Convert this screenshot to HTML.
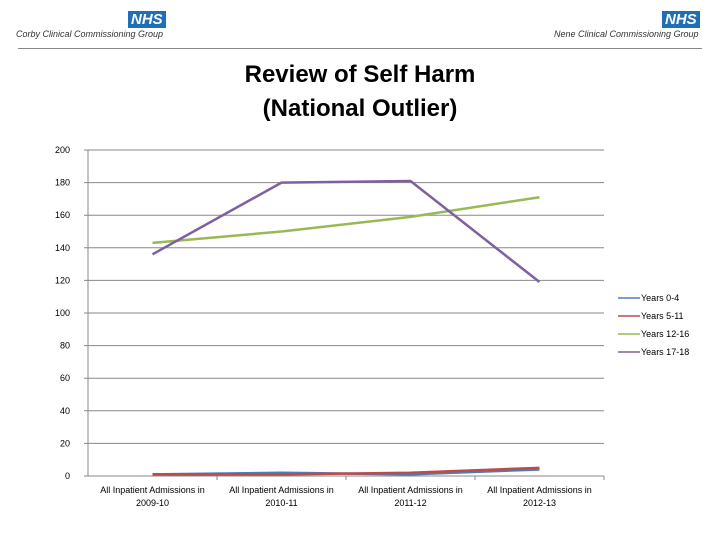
<!DOCTYPE html>
<html><head><meta charset="utf-8"><style>
body{margin:0;width:720px;height:540px;background:#fff;overflow:hidden;font-family:"Liberation Sans",sans-serif;position:relative}
.nhs{position:absolute;background:#1f6fb8;color:#fff;font:italic bold 15px "Liberation Sans",sans-serif;padding:0 3px;line-height:17px}
.org{position:absolute;font:italic 9px "Liberation Sans",sans-serif;color:#333}
</style></head><body>
<div class="nhs" style="left:128px;top:11px">NHS</div>
<div class="org" style="left:16px;top:29px">Corby Clinical Commissioning Group</div>
<div class="nhs" style="left:662px;top:11px">NHS</div>
<div class="org" style="left:554px;top:29px">Nene Clinical Commissioning Group</div>
<div style="position:absolute;left:18px;top:48px;width:684px;height:1px;background:#888"></div>
<div style="position:absolute;left:0;width:720px;top:58px;text-align:center;font:bold 24px/34px 'Liberation Sans',sans-serif;color:#000">Review of Self Harm<br>(National Outlier)</div>
<svg id="chart" width="720" height="540" style="position:absolute;left:0;top:0"></svg>
<script>
const categories=["All Inpatient Admissions in|2009-10","All Inpatient Admissions in|2010-11","All Inpatient Admissions in|2011-12","All Inpatient Admissions in|2012-13"];
const seriesNames=["Years 0-4","Years 5-11","Years 12-16","Years 17-18"];
const years0to4=[1,2,1,4];
const years5to11=[1,1,2,5];
const years12to16=[143,150,159,171];
const years17to18=[136,180,181,119];
const yTicks=[0,20,40,60,80,100,120,140,160,180,200];
const colors=["#4a7ebb","#be4b48","#98b954","#7d60a0"];
const svg=document.getElementById('chart');const NS='http://www.w3.org/2000/svg';
const x0=88,x1=604,yb=476,yt=150;
const y=v=>yb-(v/200)*(yb-yt);
const x=i=>x0+(x1-x0)/categories.length*(i+0.5);
function mk(t,a){const e=document.createElementNS(NS,t);for(const k in a)e.setAttribute(k,a[k]);svg.appendChild(e);return e;}
yTicks.forEach(v=>{
 const g=mk('line',{x1:x0-4,x2:x1,y1:y(v),y2:y(v),stroke:'#888','stroke-width':1});
 
 
 const t=mk('text',{x:x0-18,y:y(v)+3,'text-anchor':'end','font-size':9,fill:'#000','font-family':'Liberation Sans'});t.textContent=v;
 
 
});
const ax=mk('line',{x1:x0,x2:x0,y1:yt,y2:yb,stroke:'#888'});


categories.forEach((c,i)=>{
 const tx=x0+(x1-x0)/4*(i+1);
 mk('line',{x1:tx,x2:tx,y1:yb,y2:yb+4,stroke:'#888'});
 const p=c.split('|');
 p.forEach((s,j)=>{const t=mk('text',{x:x(i),y:yb+17+j*13,'text-anchor':'middle','font-size':9,fill:'#000','font-family':'Liberation Sans'});t.textContent=s;
 
 });
});
[years0to4,years5to11,years12to16,years17to18].forEach((d,si)=>{
 const pl=mk('polyline',{points:d.map((v,i)=>x(i)+','+y(v)).join(' '),fill:'none',stroke:colors[si],'stroke-width':2.5});
 
 
 const ly=298+si*18;
 const ll=mk('line',{x1:618,x2:640,y1:ly,y2:ly,stroke:colors[si],'stroke-width':1.5});
 
 
 const lt=mk('text',{x:641,y:ly+3,'font-size':9,fill:'#000','font-family':'Liberation Sans'});lt.textContent=seriesNames[si];
 
 
});
</script>
</body></html>
